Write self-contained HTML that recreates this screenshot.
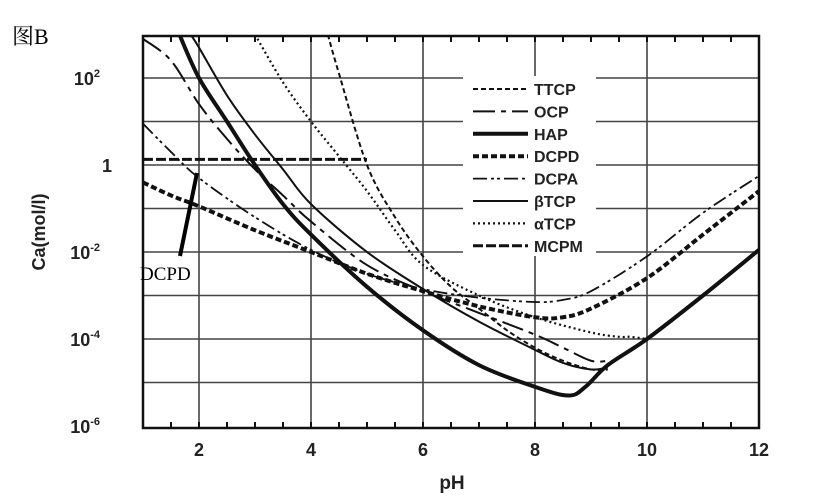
<!DOCTYPE html>
<html><head><meta charset="utf-8"><style>
html,body{margin:0;padding:0;background:#fff;width:824px;height:502px;overflow:hidden}
svg{display:block}
.t{font-family:"Liberation Sans",sans-serif;font-weight:bold;fill:#222}
</style></head><body>
<svg id="c" width="824" height="502" viewBox="0 0 824 502">
<text x="12" y="44" font-family="'Liberation Serif','Noto Serif CJK SC',serif" font-size="22" fill="#000">图B</text>
<g id="grid"></g>
<g id="series"></g>
<g id="axes"></g>
<g id="legend"></g>
<text class="t" font-size="18" transform="translate(45,232) rotate(-90)" text-anchor="middle">Ca(mol/l)</text>
<text class="t" font-size="19" x="452" y="489" text-anchor="middle">pH</text>
<line x1="197" y1="173" x2="180" y2="256" stroke="#000" stroke-width="4"/>
<text x="140" y="280" font-family="'Liberation Serif',serif" font-size="19" fill="#000">DCPD</text>
</svg>
<script>
const xTicks=[2,4,6,8,10,12];
const yTicks=[2,0,-2,-4,-6];
const yTickLabels=["10","1","10","10","10"];
const yTickExps=["2","","-2","-4","-6"];
const seriesNames=["TTCP","OCP","HAP","DCPD","DCPA","βTCP","αTCP","MCPM"];
const ttcpPH=[4.3,4.5,5,5.5,6,6.5,7,7.5,8,8.5,9,9.3];
const ttcpLog=[3.0,2.1,0.0,-1.2,-2.1,-2.8,-3.3,-3.8,-4.2,-4.5,-4.7,-4.7];
const ocpPH=[1,1.5,2,2.5,3,3.5,4,5,6,7,8,8.5,9,9.3];
const ocpLog=[2.9,2.4,1.4,0.6,-0.1,-0.7,-1.3,-2.3,-2.9,-3.4,-3.9,-4.2,-4.5,-4.5];
const hapPH=[1.65,2,2.5,3,3.5,4,5,6,7,8,8.6,8.9,9.3,10,11,12];
const hapLog=[3.0,2.0,1.0,0.0,-0.9,-1.6,-2.8,-3.8,-4.6,-5.1,-5.3,-5.1,-4.6,-4.0,-3.0,-1.95];
const dcpdPH=[1,1.5,2,3,4,5,6,7,8,8.5,9,10,11,12];
const dcpdLog=[-0.4,-0.7,-0.95,-1.5,-2.0,-2.5,-2.9,-3.25,-3.5,-3.5,-3.3,-2.6,-1.6,-0.6];
const dcpaPH=[1,1.5,2,3,4,5,6,7,8,8.5,9,10,11,12];
const dcpaLog=[0.95,0.3,-0.3,-1.2,-1.95,-2.5,-2.85,-3.05,-3.15,-3.1,-2.9,-2.1,-1.1,-0.25];
const btcpPH=[1.85,2,2.5,3,3.5,4,5,6,7,8,8.5,9,9.3];
const btcpLog=[3.0,2.7,1.6,0.7,-0.1,-0.9,-2.0,-2.85,-3.6,-4.25,-4.55,-4.7,-4.65];
const atcpPH=[3.0,3.5,4,4.5,5,5.5,6,7,8,9,9.5,9.7,10];
const atcpLog=[3.0,1.9,1.0,0.2,-0.6,-1.5,-2.3,-3.0,-3.5,-3.85,-3.95,-3.95,-4.0];
const mcpmPH=[1,5];
const mcpmLog=[0.13,0.13];

const X=ph=>143+(ph-1)*(616/11);
const Y=l=>165-l*43.5;
const NS="http://www.w3.org/2000/svg";
function mk(tag,parent,attrs){const e=document.createElementNS(NS,tag);for(const k in attrs)e.setAttribute(k,attrs[k]);parent.appendChild(e);return e;}
const grid=document.getElementById('grid'),axes=document.getElementById('axes'),ser=document.getElementById('series'),leg=document.getElementById('legend');
const pTop=36,pBot=428,pLeft=143,pRight=759;
for(let l=-5;l<=2;l++){const g=mk('line',grid,{x1:pLeft,x2:pRight,y1:Y(l),y2:Y(l),stroke:'#444','stroke-width':1.6});

}
for(const t of xTicks.slice(0,5)){const g=mk('line',grid,{x1:X(t),x2:X(t),y1:pTop,y2:pBot,stroke:'#444','stroke-width':1.6});

}
const fr=mk('rect',axes,{x:pLeft,y:pTop,width:pRight-pLeft,height:pBot-pTop,fill:'none',stroke:'#111','stroke-width':2.5});


for(let p=1.5;p<12;p+=0.5){for(const [a,b] of [[pTop,pTop+6],[pBot-6,pBot]]){const tk=mk('line',axes,{x1:X(p),x2:X(p),y1:a,y2:b,stroke:'#111','stroke-width':2});

}}
xTicks.forEach(t=>{const tx=mk('text',axes,{x:X(t),y:456,'text-anchor':'middle','font-size':18,class:'t'});tx.textContent=t;

});
yTicks.forEach((t,i)=>{const tx=mk('text',axes,{x:yTickExps[i]?100:112,y:Y(t)+7,'text-anchor':'end','font-size':18,class:'t'});


tx.textContent=yTickLabels[i];
if(yTickExps[i]){const s=mk('tspan',tx,{dy:-8,'font-size':11});s.textContent=yTickExps[i];}});
const styles={TTCP:{w:2,d:'5 3'},OCP:{w:2,d:'22 6 5 6'},HAP:{w:4,d:''},DCPD:{w:4,d:'6 3'},DCPA:{w:1.8,d:'14 4 3 3 3 4'},'βTCP':{w:2,d:''},'αTCP':{w:2.2,d:'2 3'},MCPM:{w:3,d:'10 3'}};
const data={TTCP:[ttcpPH,ttcpLog],OCP:[ocpPH,ocpLog],HAP:[hapPH,hapLog],DCPD:[dcpdPH,dcpdLog],DCPA:[dcpaPH,dcpaLog],'βTCP':[btcpPH,btcpLog],'αTCP':[atcpPH,atcpLog],MCPM:[mcpmPH,mcpmLog]};
const clip=mk('clipPath',ser,{id:'cl'});mk('rect',clip,{x:pLeft,y:pTop,width:pRight-pLeft,height:pBot-pTop});
function smooth(xs,ys){const pts=xs.map((x,i)=>[X(x),Y(ys[i])]);let d='M'+pts[0];for(let i=0;i<pts.length-1;i++){const p0=pts[i-1]||pts[i],p1=pts[i],p2=pts[i+1],p3=pts[i+2]||p2;
const c1=[p1[0]+(p2[0]-p0[0])/6,p1[1]+(p2[1]-p0[1])/6],c2=[p2[0]-(p3[0]-p1[0])/6,p2[1]-(p3[1]-p1[1])/6];d+=' C'+c1+' '+c2+' '+p2;}return d;}
seriesNames.forEach(n=>{const s=styles[n];const p=mk('path',ser,{d:smooth(data[n][0],data[n][1]),fill:'none',stroke:'#111','stroke-width':s.w,'stroke-dasharray':s.d,'clip-path':'url(#cl)'});

});
const bg=mk('rect',leg,{x:463,y:76,width:133,height:180,fill:'#fff'});


seriesNames.forEach((n,i)=>{const y=89+i*22.4;const s=styles[n];const g=mk('g',leg,{});


mk('line',g,{x1:473,x2:528,y1:y,y2:y,stroke:'#111','stroke-width':s.w,'stroke-dasharray':s.d});
const tx=mk('text',g,{x:534,y:y+6,'font-size':16,class:'t'});tx.textContent=n;});
</script>
</body></html>
